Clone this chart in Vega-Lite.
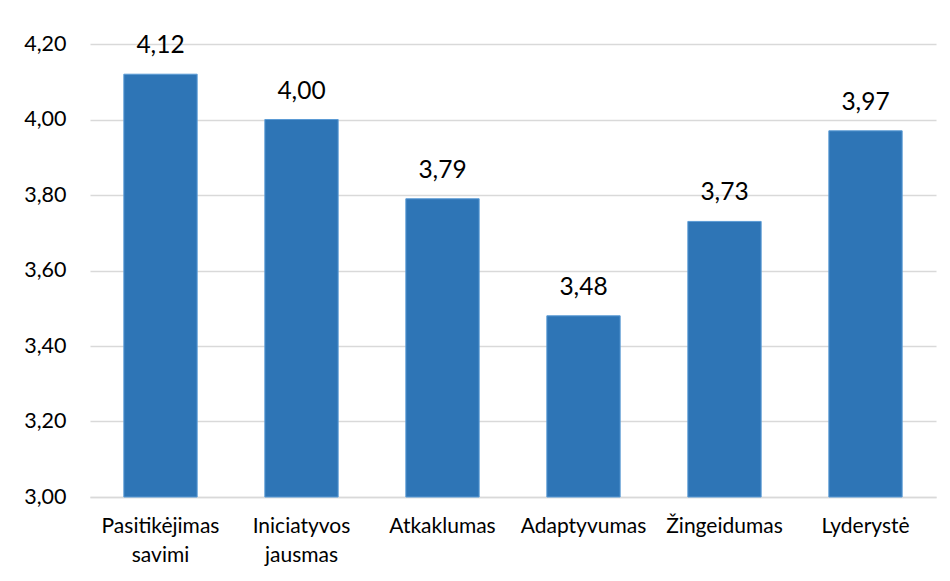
{
  "$schema": "https://vega.github.io/schema/vega-lite/v6.json",
  "width": 846,
  "height": 453,
  "autosize": {"type": "none"},
  "padding": {"left": 90, "top": 44, "right": 14, "bottom": 84},
  "background": "white",
  "config": {
    "view": {"stroke": null},
    "font": "Lato",
    "locale": {"number": {"decimal": ",", "thousands": " ", "grouping": [3], "currency": ["", " €"]}}
  },
  "data": {
    "values": [
      {"category": "Pasitikėjimas\nsavimi", "value": 4.12},
      {"category": "Iniciatyvos\njausmas", "value": 4.0},
      {"category": "Atkaklumas", "value": 3.79},
      {"category": "Adaptyvumas", "value": 3.48},
      {"category": "Žingeidumas", "value": 3.73},
      {"category": "Lyderystė", "value": 3.97}
    ]
  },
  "encoding": {
    "x": {
      "field": "category",
      "type": "nominal",
      "sort": null,
      "scale": {"paddingInner": 0.48, "paddingOuter": 0.24},
      "axis": {
        "title": null,
        "labelAngle": 0,
        "labelFontSize": 21,
        "labelFontWeight": "normal",
        "labelColor": "#000000",
        "labelPadding": 18,
        "labelBaseline": "top",
        "labelLineHeight": 29,
        "labelExpr": "split(datum.label, '\\n')",
        "ticks": false,
        "domainColor": "#d9d9d9",
        "domainWidth": 1.5
      }
    }
  },
  "layer": [
    {
      "mark": {"type": "bar", "color": "#2e75b6", "stroke": "#5b9bd5", "strokeWidth": 1},
      "encoding": {
        "y": {
          "field": "value",
          "type": "quantitative",
          "scale": {"domain": [3, 4.2], "zero": false, "nice": false},
          "axis": {
            "title": null,
            "values": [3, 3.2, 3.4, 3.6, 3.8, 4.0, 4.2],
            "format": ".2f",
            "labelFontSize": 21.5,
            "labelFontWeight": "normal",
            "labelColor": "#000000",
            "labelPadding": 24,
            "ticks": false,
            "domain": false,
            "gridColor": "#d9d9d9",
            "gridWidth": 1.5
          }
        },
        "y2": {"datum": 3}
      }
    },
    {
      "mark": {"type": "text", "fontSize": 24.5, "fontWeight": "normal", "baseline": "alphabetic", "dy": -21, "color": "#000000"},
      "encoding": {
        "y": {"field": "value", "type": "quantitative"},
        "text": {"field": "value", "type": "quantitative", "format": ".2f"}
      }
    }
  ]
}
